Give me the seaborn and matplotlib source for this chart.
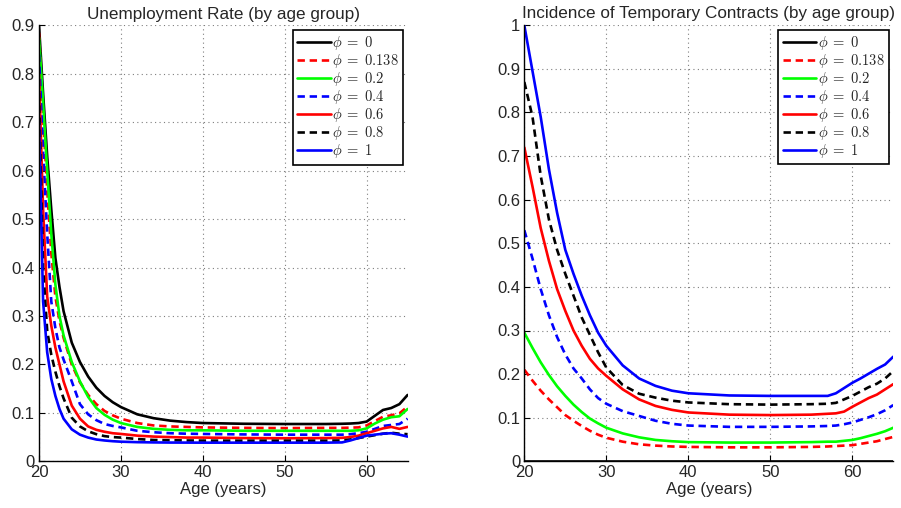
import numpy as np
import pandas as pd
import matplotlib
matplotlib.use("Agg")
import matplotlib.pyplot as plt
import seaborn as sns

# ---------------- data ----------------
phi_labels = [r"$\phi\;=\;0$", r"$\phi\;=\;0.138$", r"$\phi\;=\;0.2$", r"$\phi\;=\;0.4$",
              r"$\phi\;=\;0.6$", r"$\phi\;=\;0.8$", r"$\phi\;=\;1$"]
colors = ["#000000", "#ff0000", "#00ff00", "#0000ff", "#ff0000", "#000000", "#0000ff"]
dashed = [False, True, False, True, False, True, False]

# Unemployment rate (left panel)
age_u = [20, 20.5, 21, 21.5, 22, 22.5, 23, 24, 25, 26, 27, 28, 29, 30, 32, 34, 36, 38,
         40, 45, 50, 55, 57, 58, 59, 60, 61, 62, 63, 64, 65]
u_phi0 = [0.90, 0.76, 0.63, 0.52, 0.42, 0.36, 0.31, 0.245, 0.205, 0.175, 0.152, 0.135, 0.122,
          0.112, 0.097, 0.089, 0.084, 0.081, 0.079, 0.0775, 0.077, 0.077, 0.0775, 0.078, 0.079,
          0.082, 0.094, 0.106, 0.110, 0.118, 0.137]
u_phi0138 = [0.885, 0.71, 0.56, 0.43, 0.34, 0.29, 0.255, 0.20, 0.163, 0.137, 0.118, 0.104, 0.095,
             0.088, 0.079, 0.074, 0.072, 0.071, 0.070, 0.069, 0.0685, 0.069, 0.069, 0.0695, 0.070,
             0.074, 0.083, 0.092, 0.095, 0.099, 0.113]
u_phi02 = [0.875, 0.74, 0.60, 0.47, 0.365, 0.30, 0.26, 0.205, 0.165, 0.133, 0.11, 0.096, 0.086,
           0.079, 0.071, 0.067, 0.065, 0.064, 0.064, 0.063, 0.063, 0.063, 0.063, 0.063, 0.064,
           0.068, 0.078, 0.086, 0.091, 0.093, 0.108]
u_phi04 = [0.84, 0.64, 0.47, 0.33, 0.275, 0.235, 0.21, 0.165, 0.118, 0.097, 0.085, 0.077, 0.073,
           0.070, 0.063, 0.060, 0.058, 0.057, 0.0565, 0.0555, 0.055, 0.055, 0.055, 0.056, 0.058,
           0.061, 0.067, 0.073, 0.075, 0.077, 0.088]
u_phi06 = [0.80, 0.52, 0.34, 0.28, 0.235, 0.20, 0.165, 0.115, 0.088, 0.072, 0.065, 0.061, 0.058,
           0.0565, 0.053, 0.051, 0.050, 0.049, 0.049, 0.048, 0.0476, 0.048, 0.0485, 0.050, 0.053,
           0.058, 0.063, 0.068, 0.071, 0.067, 0.071]
u_phi08 = [0.76, 0.40, 0.27, 0.22, 0.185, 0.155, 0.13, 0.09, 0.072, 0.062, 0.056, 0.052, 0.050,
           0.049, 0.046, 0.044, 0.0435, 0.043, 0.0427, 0.0425, 0.0425, 0.0425, 0.043, 0.045, 0.048,
           0.051, 0.054, 0.057, 0.059, 0.057, 0.056]
u_phi1 = [0.70, 0.33, 0.225, 0.17, 0.135, 0.108, 0.088, 0.066, 0.055, 0.049, 0.045, 0.043, 0.0415,
          0.0405, 0.0395, 0.039, 0.0387, 0.0386, 0.0385, 0.0385, 0.0385, 0.0385, 0.039, 0.043, 0.048,
          0.053, 0.055, 0.057, 0.058, 0.055, 0.051]

# Incidence of temporary contracts (right panel)
age_t = [20, 21, 22, 23, 24, 25, 26, 27, 28, 29, 30, 32, 34, 36, 38, 40, 45, 50, 55,
         57, 58, 59, 60, 61, 62, 63, 64, 65]
t_phi0 = [0.0] * 28
t_phi0138 = [0.21, 0.185, 0.162, 0.142, 0.124, 0.106, 0.093, 0.081, 0.07, 0.061, 0.054, 0.045,
             0.039, 0.036, 0.034, 0.033, 0.032, 0.032, 0.033, 0.034, 0.035, 0.036, 0.037, 0.040,
             0.043, 0.046, 0.051, 0.056]
t_phi02 = [0.295, 0.26, 0.227, 0.198, 0.172, 0.15, 0.13, 0.113, 0.098, 0.087, 0.077, 0.064, 0.055,
           0.049, 0.046, 0.044, 0.043, 0.043, 0.044, 0.045, 0.045, 0.047, 0.049, 0.053, 0.058,
           0.063, 0.069, 0.077]
t_phi04 = [0.53, 0.465, 0.395, 0.335, 0.285, 0.245, 0.213, 0.19, 0.165, 0.145, 0.132, 0.115, 0.104,
           0.093, 0.086, 0.082, 0.079, 0.079, 0.080, 0.081, 0.082, 0.085, 0.089, 0.095, 0.101,
           0.108, 0.117, 0.129]
t_phi06 = [0.72, 0.63, 0.535, 0.46, 0.395, 0.345, 0.30, 0.265, 0.235, 0.213, 0.196, 0.165, 0.142,
           0.127, 0.118, 0.112, 0.107, 0.106, 0.107, 0.109, 0.110, 0.114, 0.125, 0.135, 0.145,
           0.153, 0.165, 0.177]
t_phi08 = [0.87, 0.79, 0.655, 0.555, 0.485, 0.43, 0.38, 0.33, 0.29, 0.25, 0.215, 0.175, 0.155,
           0.146, 0.139, 0.135, 0.131, 0.130, 0.131, 0.132, 0.134, 0.142, 0.150, 0.160, 0.170,
           0.178, 0.19, 0.207]
t_phi1 = [1.0, 0.895, 0.79, 0.67, 0.57, 0.485, 0.43, 0.38, 0.335, 0.295, 0.265, 0.22, 0.19, 0.173,
          0.162, 0.156, 0.151, 0.150, 0.150, 0.150, 0.156, 0.168, 0.180, 0.19, 0.201, 0.212,
          0.222, 0.240]

u_series = [u_phi0, u_phi0138, u_phi02, u_phi04, u_phi06, u_phi08, u_phi1]
t_series = [t_phi0, t_phi0138, t_phi02, t_phi04, t_phi06, t_phi08, t_phi1]

u_yticks = [0, 0.1, 0.2, 0.3, 0.4, 0.5, 0.6, 0.7, 0.8, 0.9]
u_yticklabels = ["0", "0.1", "0.2", "0.3", "0.4", "0.5", "0.6", "0.7", "0.8", "0.9"]
t_yticks = [0, 0.1, 0.2, 0.3, 0.4, 0.5, 0.6, 0.7, 0.8, 0.9, 1.0]
t_yticklabels = ["0", "0.1", "0.2", "0.3", "0.4", "0.5", "0.6", "0.7", "0.8", "0.9", "1"]
xticks = [20, 30, 40, 50, 60]
xticklabels = ["20", "30", "40", "50", "60"]

# ---------------- style ----------------
sns.set_style("white")
plt.rcParams["font.family"] = ["Liberation Sans", "DejaVu Sans"]
plt.rcParams["mathtext.fontset"] = "cm"
plt.rcParams["xtick.direction"] = "in"
plt.rcParams["ytick.direction"] = "in"

W, H = 901, 508
fig = plt.figure(figsize=(W / 100, H / 100), dpi=100)
ax1 = fig.add_axes([39 / W, 1 - 461.3 / H, (407.6 - 39) / W, (461.3 - 25.5) / H])
ax2 = fig.add_axes([524.3 / W, 1 - 461.3 / H, (893.3 - 524.3) / W, (461.3 - 25.3) / H])


def draw(ax, ages, series, yticks, yticklabels, ymax, title):
    for vals, c, d, lab in zip(series, colors, dashed, phi_labels):
        df = pd.DataFrame({"age": ages, "val": vals})
        ls = (0, (2.8, 1.8)) if d else "-"
        sns.lineplot(data=df, x="age", y="val", ax=ax, color=c, linewidth=1.9,
                     linestyle=ls, label=lab, clip_on=True)
    ax.set_xlim(20, 65)
    ax.set_ylim(0, ymax)
    ax.set_xticks(xticks)
    ax.set_xticklabels(xticklabels, fontsize=12)
    ax.set_yticks(yticks)
    ax.set_yticklabels(yticklabels, fontsize=12)
    ax.set_xlabel("Age (years)", fontsize=12, labelpad=1)
    ax.set_ylabel("")
    ax.set_title(title, fontsize=12.3, pad=5)
    ax.grid(True, linestyle=(0, (1, 3)), color="#7f7f7f", linewidth=0.8)
    for s in ["top", "right"]:
        ax.spines[s].set_visible(False)
    for s in ["left", "bottom"]:
        ax.spines[s].set_color("black")
        ax.spines[s].set_linewidth(1.0)
    ax.tick_params(axis="both", which="both", length=4, width=0.8, color="black",
                   left=True, bottom=True, top=False, right=False, pad=3)
    leg = ax.legend(loc="upper right", fontsize=10.5, frameon=True, fancybox=False,
                    edgecolor="black", framealpha=1, handlelength=2.3, handletextpad=0.1,
                    labelspacing=0.0, borderpad=0.3, borderaxespad=0.3)
    leg.get_frame().set_linewidth(1.2)


draw(ax1, age_u, u_series, u_yticks, u_yticklabels, 0.9, "Unemployment Rate (by age group)")
draw(ax2, age_t, t_series, t_yticks, t_yticklabels, 1.0,
     "Incidence of Temporary Contracts (by age group)")

fig.savefig("out.png", dpi=100)
